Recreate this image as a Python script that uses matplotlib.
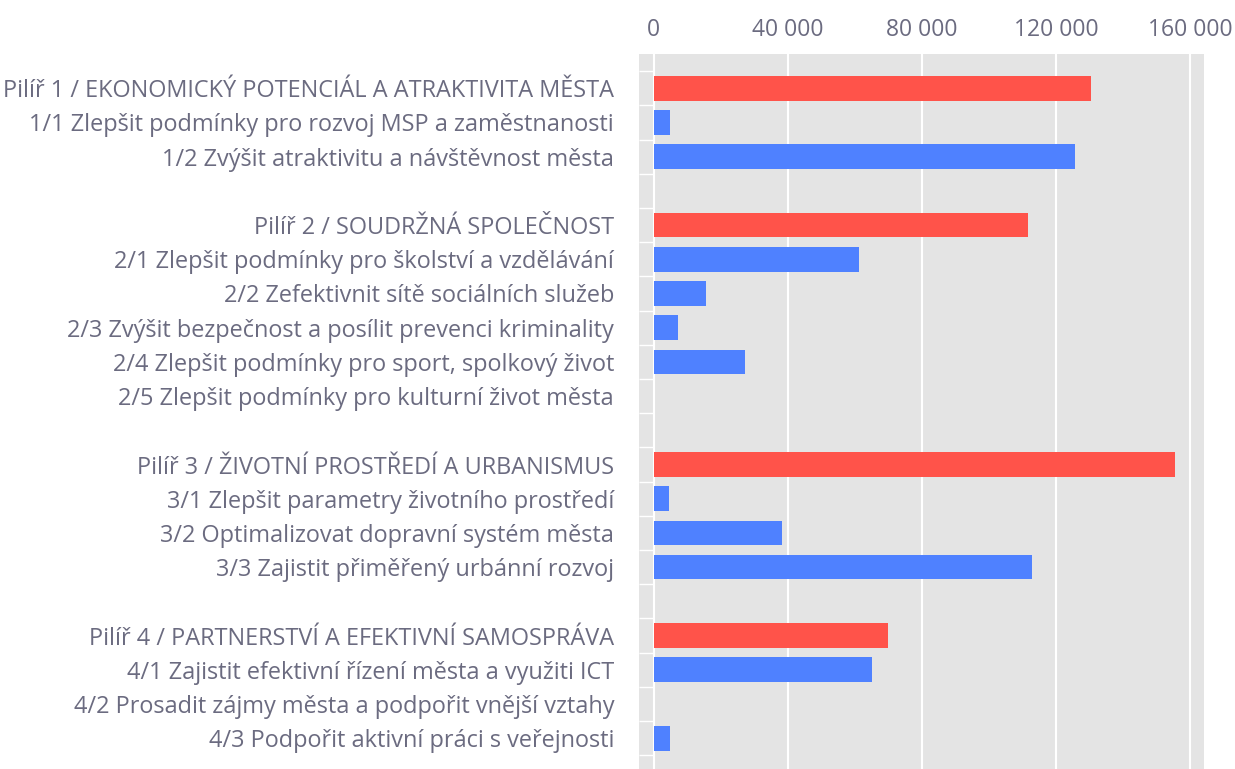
import matplotlib
matplotlib.use("Agg")
import matplotlib.pyplot as plt

labels = [
    "Pilíř 1 / EKONOMICKÝ POTENCIÁL A ATRAKTIVITA MĚSTA",
    "1/1 Zlepšit podmínky pro rozvoj MSP a zaměstnanosti",
    "1/2 Zvýšit atraktivitu a návštěvnost města",
    "",
    "Pilíř 2 / SOUDRŽNÁ SPOLEČNOST",
    "2/1 Zlepšit podmínky pro školství a vzdělávání",
    "2/2 Zefektivnit sítě sociálních služeb",
    "2/3 Zvýšit bezpečnost a posílit prevenci kriminality",
    "2/4 Zlepšit podmínky pro sport, spolkový život",
    "2/5 Zlepšit podmínky pro kulturní život města",
    "",
    "Pilíř 3 / ŽIVOTNÍ PROSTŘEDÍ A URBANISMUS",
    "3/1 Zlepšit parametry životního prostředí",
    "3/2 Optimalizovat dopravní systém města",
    "3/3 Zajistit přiměřený urbánní rozvoj",
    "",
    "Pilíř 4 / PARTNERSTVÍ A EFEKTIVNÍ SAMOSPRÁVA",
    "4/1 Zajistit efektivní řízení města a využiti ICT",
    "4/2 Prosadit zájmy města a podpořit vnější vztahy",
    "4/3 Podpořit aktivní práci s veřejnosti",
]
values = [130600, 4900, 125800, 0,
          111800, 61300, 15700, 7300, 27300, 0, 0,
          155500, 4600, 38300, 112900, 0,
          70000, 65200, 0, 4900]
is_pillar = [l.startswith("Pilíř") for l in labels]

xticks = [0, 40000, 80000, 120000, 160000]
xtick_labels = ["0", "40 000", "80 000", "120 000", "160 000"]

RED = "#ff534a"
BLUE = "#4f81ff"
BG = "#e4e4e4"
TXT = "#6b6b80"

plt.rcParams['font.family'] = ['Open Sans', 'DejaVu Sans']

fig = plt.figure(figsize=(12.35, 7.69), dpi=100)
ax = fig.add_axes([639 / 1235, 0, (1204 - 639) / 1235, 1 - 54 / 769])
ax.set_facecolor(BG)

xmin, xmax = -4330, 164200
ax.set_xlim(xmin, xmax)
ax.set_ylim(19.9, -1.0)

ypos = list(range(len(labels)))
colors = [RED if p else BLUE for p in is_pillar]

# grid: vertical white lines, small row separators left of zero
for t in xticks[1:]:
    ax.axvline(t, color="white", lw=1.5, zorder=1)
ax.axvline(0, color="white", lw=1.5, zorder=1)
ax.hlines([y - 0.5 for y in range(len(labels) + 1)], xmin, 0,
          color="white", lw=1.0, zorder=1)

ax.barh(ypos, values, height=0.72, color=colors, zorder=2)

ax.set_yticks(ypos)
ax.set_yticklabels(labels, fontsize=16.9, color=TXT)
ax.set_xticks(xticks)
ax.set_xticklabels(xtick_labels, fontsize=16.5, color=TXT)
ax.xaxis.tick_top()
ax.tick_params(axis="both", length=0)
ax.tick_params(axis="y", pad=18)
ax.tick_params(axis="x", pad=9)
for s in ax.spines.values():
    s.set_visible(False)

fig.savefig("out.png", dpi=100)
